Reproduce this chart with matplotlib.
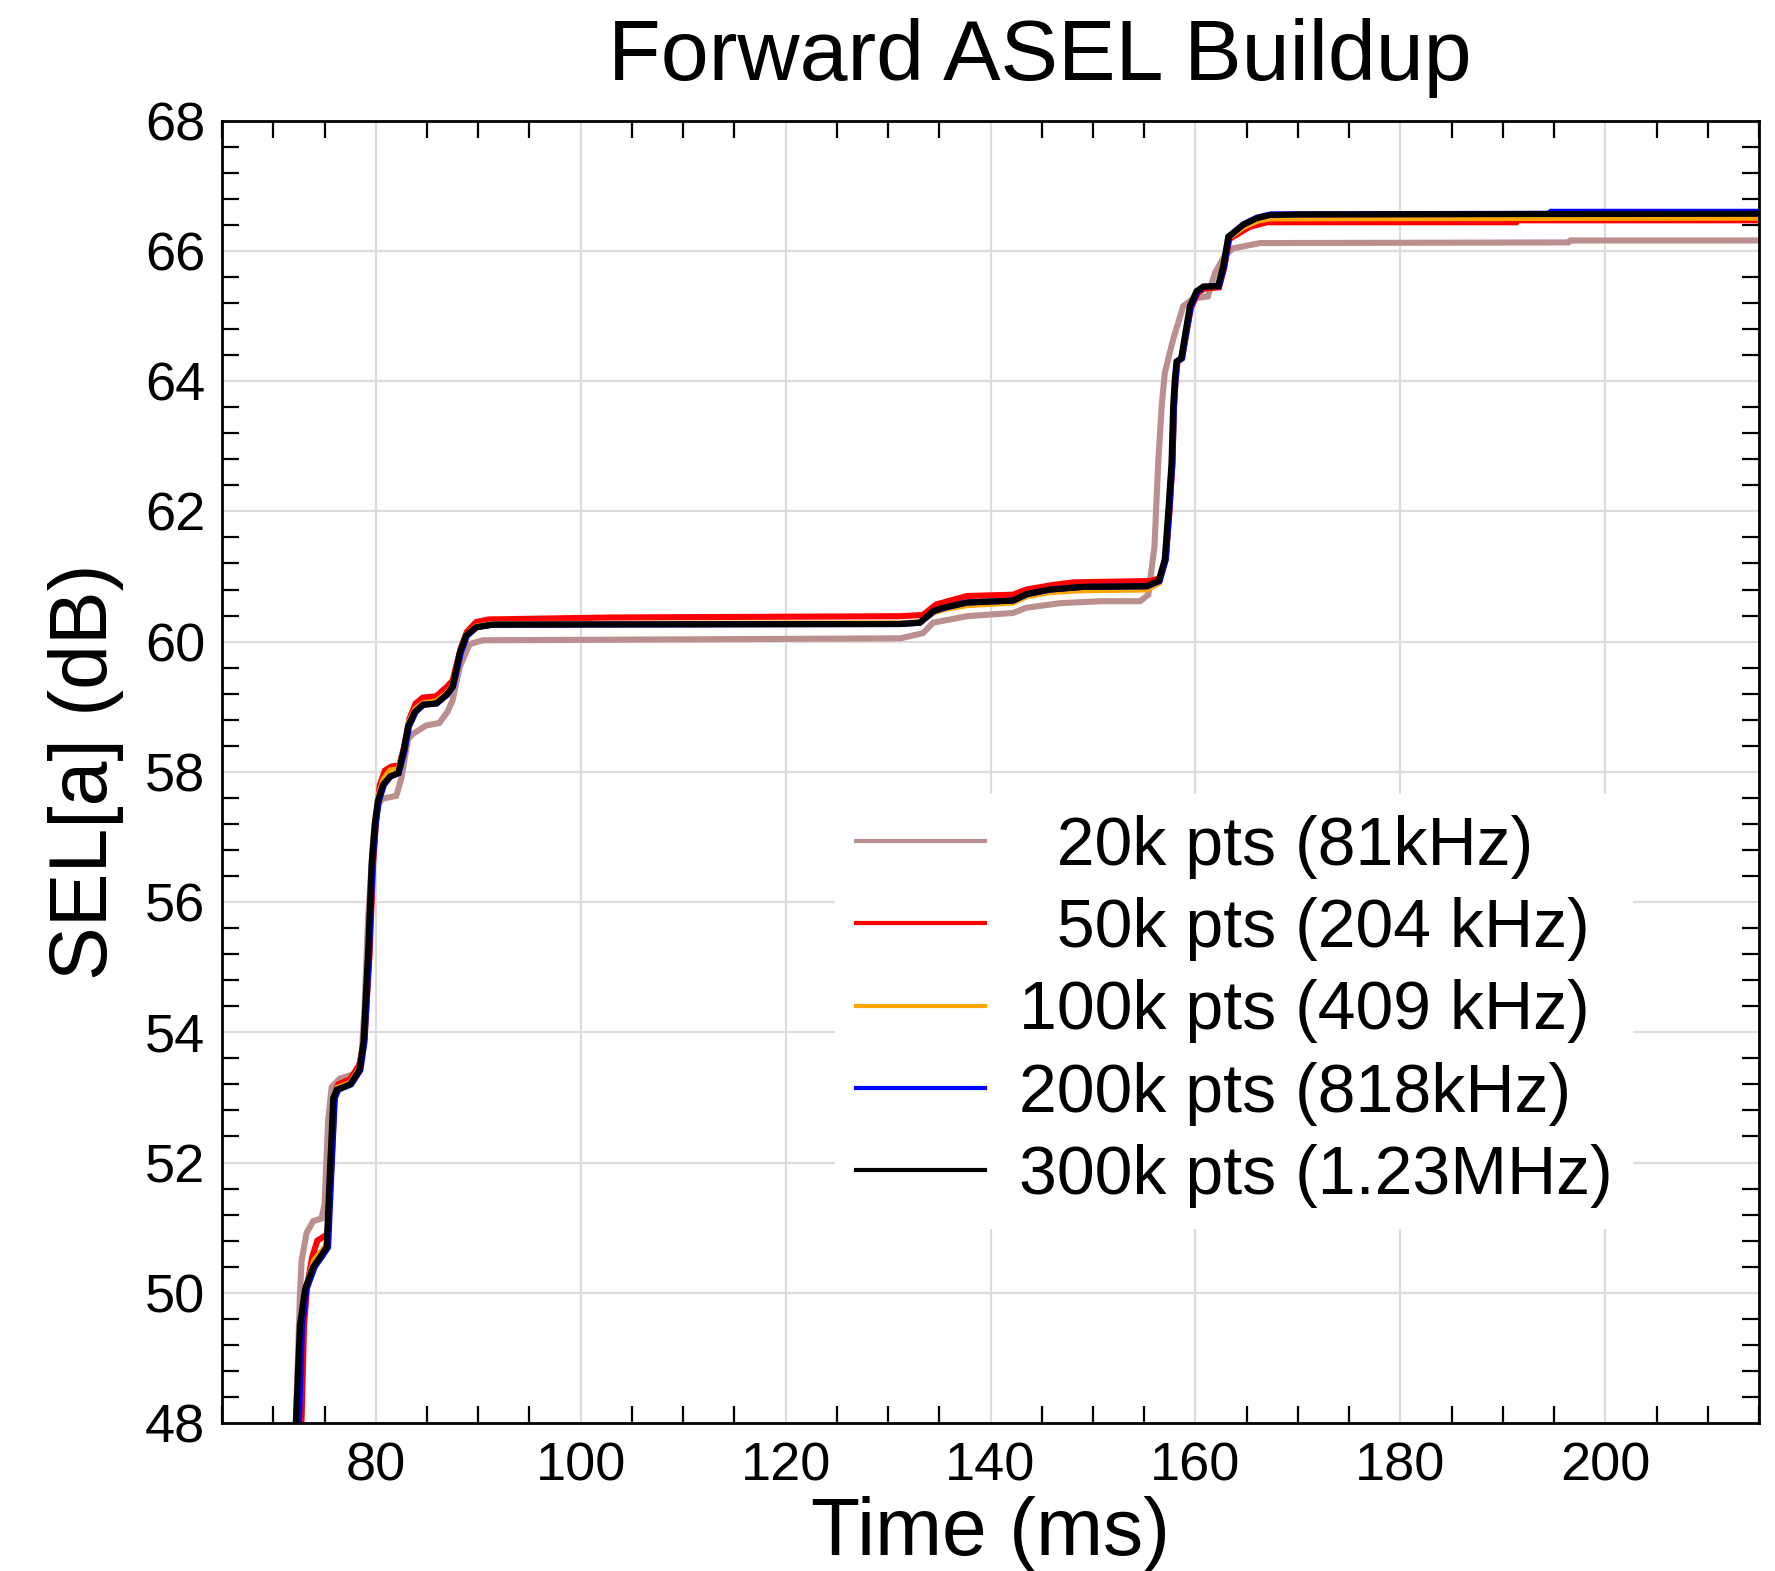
import numpy as np
import matplotlib
matplotlib.use('Agg')
import matplotlib.pyplot as plt
from matplotlib.ticker import MultipleLocator

plt.rcParams['font.family'] = ['Liberation Sans', 'DejaVu Sans']

# (time ms, SEL dB)
pts_20k = [(72.0, 46.0), (72.2, 48.0), (72.6, 49.97), (72.76, 50.49), (73.25, 50.92),
           (73.9, 51.1), (74.7, 51.14), (75.0, 51.35), (75.35, 52.64), (75.7, 53.16),
           (76.5, 53.29), (78.1, 53.37), (78.6, 53.6), (78.9, 54.36), (79.25, 55.74),
           (79.74, 56.94), (80.2, 57.5), (80.7, 57.59), (82.0, 57.63), (82.5, 57.9),
           (83.15, 58.5), (83.6, 58.58), (84.9, 58.71), (86.2, 58.75), (87.0, 58.92),
           (87.5, 59.1), (88.2, 59.61), (89.15, 59.96), (90.45, 60.02), (131.2, 60.05),
           (133.4, 60.13), (134.4, 60.29), (137.7, 60.39), (142.2, 60.44), (143.5, 60.52),
           (146.8, 60.59), (150.7, 60.62), (154.6, 60.62), (155.4, 60.72), (156.0, 61.46),
           (156.36, 62.74), (156.7, 63.61), (157.0, 64.12), (157.8, 64.63), (158.8, 65.15),
           (159.8, 65.27), (161.2, 65.3), (161.9, 65.66), (162.9, 65.94), (163.7, 66.04),
           (166.3, 66.12), (196.4, 66.13), (196.6, 66.16), (215.0, 66.16)]

pts_50k = [(72.55, 46.0), (72.75, 48.0), (73.0, 49.5), (73.3, 50.1), (73.8, 50.55),
           (74.3, 50.8), (74.8, 50.85), (75.3, 50.9), (75.65, 51.9), (76.0, 53.05),
           (76.35, 53.2), (77.5, 53.28), (78.4, 53.5), (78.9, 53.9), (79.4, 55.2),
           (79.75, 56.6), (80.05, 57.3), (80.4, 57.8), (80.9, 58.02), (81.5, 58.08),
           (82.3, 58.1), (82.8, 58.4), (83.3, 58.82), (83.9, 59.05), (84.6, 59.14),
           (85.9, 59.16), (86.9, 59.3), (87.5, 59.4), (88.3, 59.9), (88.9, 60.15),
           (89.8, 60.3), (91.0, 60.34), (103.0, 60.37), (131.2, 60.39), (133.4, 60.41),
           (134.7, 60.57), (137.7, 60.7), (142.2, 60.72), (143.5, 60.8), (146.1, 60.87),
           (148.1, 60.91), (155.5, 60.93), (156.5, 60.97), (157.1, 61.26), (157.45, 61.97),
           (157.75, 62.74), (157.9, 63.6), (158.05, 64.0), (158.25, 64.3), (158.7, 64.35),
           (159.05, 64.69), (159.55, 65.12), (160.2, 65.35), (160.85, 65.42), (162.3, 65.44),
           (162.8, 65.74), (163.3, 66.18), (163.7, 66.22), (165.3, 66.37), (167.0, 66.44),
           (191.3, 66.44), (191.4, 66.47), (215.0, 66.47)]

pts_100k = [(72.3, 46.0), (72.45, 48.0), (72.75, 49.55), (73.2, 50.1), (74.0, 50.5),
            (74.8, 50.65), (75.3, 50.75), (75.6, 51.8), (75.95, 53.02), (76.3, 53.15),
            (77.5, 53.22), (78.4, 53.44), (78.85, 53.86), (79.3, 55.22), (79.65, 56.6),
            (79.95, 57.25), (80.25, 57.62), (80.75, 57.88), (81.4, 58.02), (82.2, 58.04),
            (82.75, 58.35), (83.2, 58.75), (83.85, 58.96), (84.6, 59.05), (85.9, 59.08),
            (86.9, 59.2), (87.5, 59.32), (88.25, 59.84), (88.85, 60.1), (89.8, 60.23),
            (91.4, 60.27), (131.2, 60.28), (133.1, 60.3), (134.5, 60.45), (135.5, 60.5),
            (137.7, 60.56), (142.2, 60.6), (143.6, 60.7), (145.8, 60.76), (149.0, 60.79),
            (155.2, 60.8), (156.45, 60.9), (157.05, 61.26), (157.38, 61.97), (157.7, 62.74),
            (157.86, 63.61), (158.02, 64.02), (158.2, 64.3), (158.65, 64.35), (159.0, 64.69),
            (159.5, 65.15), (160.15, 65.38), (160.8, 65.45), (162.25, 65.46), (162.75, 65.76),
            (163.25, 66.2), (163.75, 66.26), (164.7, 66.37), (166.0, 66.46), (167.3, 66.5),
            (215.0, 66.51)]

pts_200k = [(72.3, 46.0), (72.5, 48.0), (72.8, 49.5), (73.25, 50.06), (74.05, 50.4),
            (74.85, 50.58), (75.35, 50.7), (75.65, 51.78), (76.0, 52.99), (76.35, 53.12),
            (77.6, 53.2), (78.5, 53.42), (78.9, 53.85), (79.35, 55.22), (79.7, 56.6),
            (80.0, 57.2), (80.3, 57.55), (80.8, 57.8), (81.45, 57.93), (82.25, 57.98),
            (82.8, 58.32), (83.25, 58.7), (83.9, 58.92), (84.65, 59.03), (85.95, 59.05),
            (86.95, 59.18), (87.55, 59.31), (88.3, 59.83), (88.9, 60.09), (89.85, 60.22),
            (91.4, 60.26), (131.2, 60.27), (133.1, 60.29), (134.5, 60.47), (135.5, 60.52),
            (137.7, 60.6), (142.2, 60.63), (143.6, 60.73), (145.9, 60.8), (149.0, 60.84),
            (155.3, 60.85), (156.5, 60.93), (157.1, 61.26), (157.43, 61.97), (157.75, 62.74),
            (157.9, 63.61), (158.06, 64.02), (158.22, 64.3), (158.68, 64.35), (159.05, 64.69),
            (159.55, 65.15), (160.2, 65.38), (160.85, 65.45), (162.3, 65.46), (162.8, 65.76),
            (163.3, 66.22), (163.8, 66.29), (164.7, 66.41), (166.0, 66.51), (167.3, 66.56),
            (194.5, 66.57), (194.7, 66.6), (215.0, 66.6)]

pts_300k = [(72.0, 46.0), (72.2, 48.0), (72.6, 49.5), (73.1, 50.06), (73.9, 50.4),
            (74.7, 50.58), (75.2, 50.7), (75.5, 51.78), (75.85, 52.99), (76.2, 53.12),
            (77.5, 53.2), (78.4, 53.42), (78.8, 53.85), (79.25, 55.22), (79.6, 56.6),
            (79.9, 57.2), (80.2, 57.55), (80.7, 57.8), (81.4, 57.93), (82.2, 57.98),
            (82.7, 58.32), (83.15, 58.7), (83.8, 58.92), (84.6, 59.03), (85.9, 59.05),
            (86.9, 59.18), (87.5, 59.31), (88.2, 59.83), (88.8, 60.09), (89.8, 60.22),
            (91.4, 60.26), (131.2, 60.27), (133.1, 60.29), (134.4, 60.47), (135.4, 60.52),
            (137.7, 60.6), (142.2, 60.63), (143.5, 60.73), (145.8, 60.8), (149.0, 60.84),
            (155.2, 60.85), (156.4, 60.93), (157.0, 61.26), (157.33, 61.97), (157.66, 62.74),
            (157.82, 63.61), (157.98, 64.02), (158.15, 64.3), (158.6, 64.35), (158.96, 64.69),
            (159.45, 65.15), (160.1, 65.38), (160.75, 65.45), (162.2, 65.46), (162.7, 65.76),
            (163.2, 66.22), (163.7, 66.28), (164.65, 66.4), (165.95, 66.5), (167.25, 66.55),
            (170.2, 66.56), (215.0, 66.57)]

labels = ['  20k pts (81kHz)', '  50k pts (204 kHz)', '100k pts (409 kHz)',
          '200k pts (818kHz)', '300k pts (1.23MHz)']
colors = ['#bc8f8f', '#ff0000', '#ffa500', '#0000ff', '#000000']
series = [pts_20k, pts_50k, pts_100k, pts_200k, pts_300k]

fig = plt.figure(figsize=(17.75, 15.71), dpi=100)
ax = fig.add_axes([0.1251, 0.0942, 0.8659, 0.829])

for pts, lab, col in zip(series, labels, colors):
    t, y = np.array(pts).T
    ax.plot(t, y, color=col, lw=4.4, label=lab, solid_joinstyle='miter')

ax.set_xlim(65, 215)
ax.set_ylim(48, 68)
ax.xaxis.set_major_locator(MultipleLocator(20))
ax.xaxis.set_minor_locator(MultipleLocator(5))
ax.yaxis.set_major_locator(MultipleLocator(2))
ax.yaxis.set_minor_locator(MultipleLocator(0.4))
ax.tick_params(which='major', length=0, labelsize=39)
ax.tick_params(axis='x', which='major', pad=13)
ax.tick_params(axis='y', which='major', pad=12)
ax.tick_params(which='minor', direction='in', length=12, width=1.6,
               top=True, right=True)
ax.grid(True, which='major', color='#dcdcdc', lw=1.6)
ax.set_axisbelow(True)
for sp in ax.spines.values():
    sp.set_linewidth(2)

ax.set_xlabel('Time (ms)', fontsize=58)
ax.set_ylabel('SEL[a] (dB)', fontsize=58)
ax.xaxis.set_label_coords(0.5, -0.056)
ax.yaxis.set_label_coords(-0.064, 0.5)
ax.set_title('Forward ASEL Buildup', fontsize=62, x=0.532, pad=29)

leg = ax.legend(loc='center', bbox_to_anchor=(0.6585, 0.316), fontsize=49,
                frameon=True, fancybox=False, handlelength=1.9, handletextpad=0.5,
                labelspacing=0.27, borderpad=0.3)
leg.get_frame().set_edgecolor('none')
leg.get_frame().set_facecolor('white')
leg.get_frame().set_alpha(1)
for h in leg.get_lines():
    h.set_linewidth(3)

fig.savefig('out.png', dpi=100)
